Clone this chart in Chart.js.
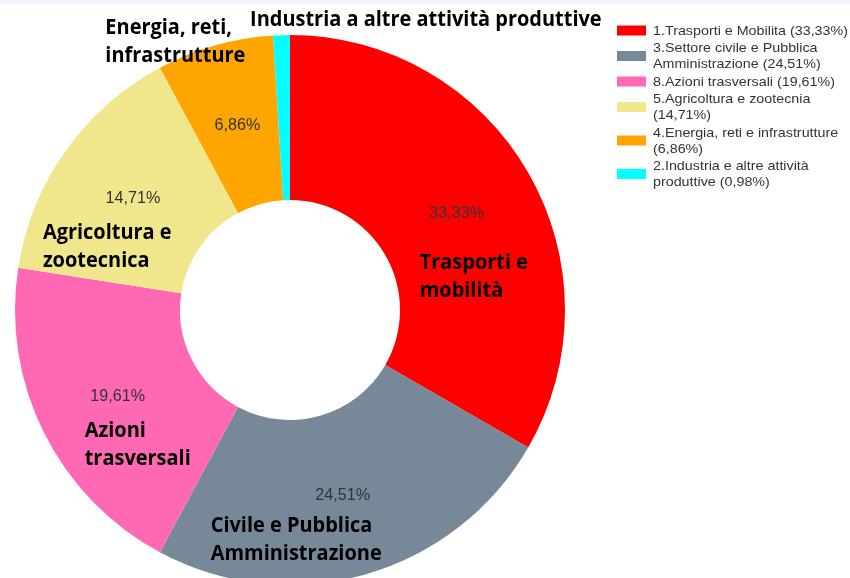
<!DOCTYPE html>
<html>
<head>
<meta charset="utf-8">
<script src="https://cdn.jsdelivr.net/npm/chart.js@4.4.1/dist/chart.umd.min.js"></script>
<style>
  html, body { margin: 0; padding: 0; background: #fff; overflow: hidden; width: 850px; height: 578px; }
  #band { position: absolute; left: 0; top: 0; width: 850px; height: 4px; background: #eef2f9; }
  #wrap { position: absolute; left: 0; top: 0; width: 850px; height: 620px; }
</style>
</head>
<body>
<div id="wrap"><canvas id="torta" width="850" height="620"></canvas></div>
<div id="band"></div>
<script>
// dati del grafico (ordine orario partendo dalle ore 12)
var categorie = [
  ['Trasporti e', 'mobilità'],
  ['Civile e Pubblica', 'Amministrazione'],
  ['Azioni', 'trasversali'],
  ['Agricoltura e', 'zootecnica'],
  ['Energia, reti,', 'infrastrutture'],
  ['Industria a altre attività produttive']
];
var valori = [33.33, 24.51, 19.61, 14.71, 6.86, 0.98];
var legenda = [
  ['1.Trasporti e Mobilita (33,33%)'],
  ['3.Settore civile e Pubblica', 'Amministrazione (24,51%)'],
  ['8.Azioni trasversali (19,61%)'],
  ['5.Agricoltura e zootecnia', '(14,71%)'],
  ['4.Energia, reti e infrastrutture', '(6,86%)'],
  ['2.Industria e altre attività', 'produttive (0,98%)']
];
var colori = ['#ff0000', '#778899', '#ff69b4', '#f0e68c', '#ffa500', '#00ffff'];

// spostamento delle etichette in grassetto rispetto al centro del settore (linea di base)
var spostNomi = [[-37, 55], [-132, 37], [-33, 41], [-90, 40], [-132, -91], [-34, -92]];

var etichette = {
  id: 'etichette',
  afterDatasetsDraw: function (chart) {
    var ctx = chart.ctx;
    var meta = chart.getDatasetMeta(0);
    ctx.save();
    meta.data.forEach(function (arc, i) {
      var p = arc.tooltipPosition();
      // percentuale
      if (valori[i] > 2) {
        ctx.font = '17px "Liberation Sans", Arial, sans-serif';
        ctx.fillStyle = '#333';
        ctx.textAlign = 'center';
        ctx.textBaseline = 'middle';
        ctx.save();
        ctx.translate(p.x, p.y);
        ctx.scale(0.95, 1);
        ctx.fillText(valori[i].toFixed(2).replace('.', ',') + '%', 0, 0);
        ctx.restore();
      }
      // nome categoria
      ctx.font = 'bold 21px "Open Sans", sans-serif';
      ctx.fillStyle = '#000';
      ctx.textAlign = 'left';
      ctx.textBaseline = 'alphabetic';
      var x0 = p.x + spostNomi[i][0];
      var y0 = p.y + spostNomi[i][1];
      categorie[i].forEach(function (riga, k) {
        ctx.save();
        ctx.translate(x0, y0 + k * 28);
        ctx.scale(0.95, 1);
        ctx.fillText(riga, 0, 0);
        ctx.restore();
      });
    });
    ctx.restore();
  }
};

var legendaLaterale = {
  id: 'legendaLaterale',
  afterDraw: function (chart) {
    var ctx = chart.ctx;
    ctx.save();
    ctx.font = '13px "Liberation Sans", Arial, sans-serif';
    ctx.textBaseline = 'middle';
    ctx.textAlign = 'left';
    var y = 31;
    legenda.forEach(function (righe, i) {
      var mid = y + (righe.length - 1) * 16 / 2;
      ctx.fillStyle = chart.data.datasets[0].backgroundColor[i];
      ctx.fillRect(617, mid - 5.5, 29, 10);
      ctx.fillStyle = '#333';
      righe.forEach(function (r, k) {
        ctx.save();
        ctx.translate(653, y + k * 16);
        ctx.scale(1.1, 1);
        ctx.fillText(r, 0, 0);
        ctx.restore();
      });
      y += righe.length * 16 + 1.5;
    });
    ctx.restore();
  }
};

new Chart(document.getElementById('torta'), {
  type: 'doughnut',
  data: {
    labels: categorie.map(function (c) { return c.join(' '); }),
    datasets: [{
      data: valori,
      backgroundColor: colori,
      borderWidth: 0
    }]
  },
  options: {
    responsive: false,
    animation: false,
    cutout: '40%',
    layout: { padding: { left: 15, right: 285, top: 35, bottom: 35 } },
    plugins: {
      legend: { display: false },
      tooltip: { enabled: false }
    }
  },
  plugins: [etichette, legendaLaterale]
});
</script>
</body>
</html>
